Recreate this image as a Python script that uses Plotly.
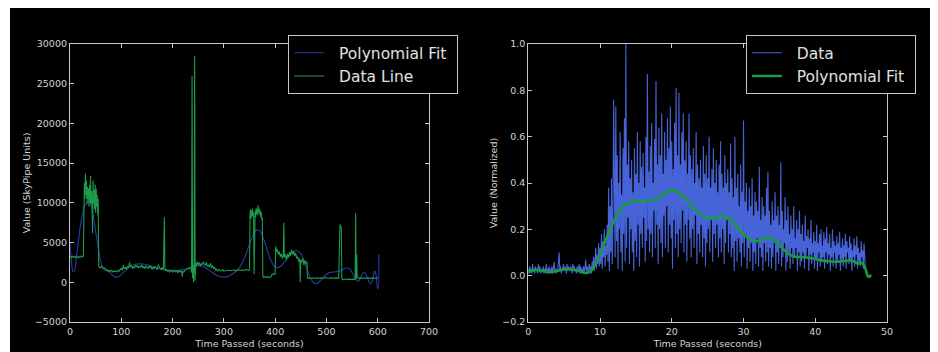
import numpy as np
import plotly.graph_objects as go

# ---------------- Left panel data (SkyPipe units) ----------------
left_time = [0, 2, 4, 6, 8, 10, 12, 14, 16, 18, 20, 22, 24, 26,
             27, 28, 29, 30, 31, 32, 33, 34, 35, 36, 37, 38, 39, 40, 41, 42, 43, 44, 45, 46, 47, 48, 49, 50,
             51, 52, 53, 54, 55, 56, 58, 60, 62, 64, 66, 68, 70, 72, 74, 76, 78, 80, 82, 84, 86, 88, 90,
             92, 94, 96, 98, 100, 102, 104, 106, 108, 110, 112, 114, 116, 118, 120, 122, 124, 126, 128,
             130, 132, 134, 136, 138, 140, 142, 144, 146, 148, 150, 152, 154, 156, 158, 160, 162, 164,
             166, 168, 170, 172, 174, 176, 178, 180, 182, 184, 185, 186, 188, 190, 192, 194, 196, 198,
             200, 202, 204, 206, 208, 210, 212, 214, 216, 218, 219, 220, 222, 224, 226, 228, 230, 232,
             234, 236, 237, 238, 239, 240, 241, 242, 243, 244, 245, 246, 248, 250, 252, 254, 256, 258,
             260, 262, 264, 266, 268, 270, 272, 274, 276, 278, 280, 282, 284, 286, 288, 290, 292, 294,
             296, 298, 300, 304, 308, 312, 316, 320, 324, 328, 332, 336, 340, 344, 348, 350,
             351, 352, 353, 354, 355, 356, 357, 358, 359, 360, 361, 362, 363, 364, 365, 366, 367, 368,
             369, 370, 371, 372, 373, 374, 375, 376, 378, 380, 382, 384, 386, 388, 390, 392, 394, 396,
             398, 400, 401, 402, 404, 406, 408, 410, 412, 414, 416, 417, 418, 420, 422, 424, 426, 428,
             430, 432, 434, 436, 438, 440, 442, 444, 446, 448, 449, 450, 452, 454, 456, 458, 460, 462,
             463, 466, 470, 474, 478, 482, 486, 490, 494, 498, 502, 506, 510, 514, 518, 522, 524, 526,
             527, 528, 529, 530, 532, 536, 540, 544, 548, 552, 556, 557, 558, 559, 560, 562, 566, 570,
             574, 578, 582, 586, 590, 594, 598, 600]
left_values = [3200, 3100, 3300, 3150, 3250, 3100, 3300, 3200, 3100, 3250, 3150, 3300, 3200, 3250,
               9000, 12500, 10500, 13700, 11000, 12800, 9800, 12000, 10500, 11800, 9500, 12200, 10000, 13400,
               9800, 11500, 10200, 6200, 12800, 10000, 11600, 9200, 12300, 8800,
               11800, 9500, 11000, 8500, 10500, 2000, 1900, 1800, 2000, 1900, 1750, 1800, 1500, 1600, 1400,
               1500, 1350, 1500, 1400, 1300, 1450, 1350, 1400,
               1300, 1500, 1400, 1600, 1800, 1500, 2200, 1700, 1900, 1600, 2000, 1800, 2500, 1900, 2100,
               1700, 2000, 1800, 2200,
               1900, 2100, 1800, 2000, 1900, 2200, 1800, 2000, 1700, 2100, 1900, 1700, 2100, 1800, 2000,
               1600, 1900, 1700,
               2000, 1800, 1600, 2200, 1900, 1700, 1600, 1900, 1600, 8200, 1700, 1500, 1600, 1400, 1500,
               1300, 1500, 1400,
               1300, 1500, 1400, 1300, 1500, 1200, 1400, 1300, 1500, 1200, 700, 1400, 1300, 1500, 1600,
               1700, 1800, 1700,
               1900, 1800, 1200, 26000, 500, 2200, 0, 1800, 28500, 200, 2400, 2000, 2600, 2200, 2500, 2000,
               2400, 2200,
               2600, 2300, 2100, 2500, 2000, 2200, 1900, 2400, 1800, 2100, 1700, 1900, 1500, 1700, 1400,
               1600, 1500, 1400,
               1500, 1600, 1400, 1500, 1550, 1450, 1500, 1550, 1450, 1600, 1500, 1550, 1500, 1600, 1500, 1550,
               8500, 9200, 8000, 9000, 8400, 9300, 8200, 8800, 1000, 8500, 9000, 8200, 9400, 8600, 9200,
               8400, 9700, 8800,
               9300, 8500, 9000, 8200, 8800, 7800, 8200, 700, 600, 700, 650, 600, 700, 650, 600, 700, 1000,
               1000,
               1100, 1000, 4500, 3800, 4200, 3500, 3900, 3200, 3600, 3000, 3400, 7500, 3100, 3500, 2800,
               3600, 3100, 3800,
               3300, 4100, 3500, 3900, 3300, 3700, 3000, 3200, 2600, 3000, 0, 2800, 2500, 3000, 2200, 2800,
               2300, 2600,
               500, 550, 500, 550, 500, 550, 500, 550, 500, 600, 550, 500, 550, 500, 550, 500, 500, 6500,
               7300, 7000, 6800, 500, 300, 400, 350, 400, 350, 400, 350, 8700, 400, 3500, 700, 500, 550, 500,
               550, 500, 550, 500, 550, 500, 550, 500]

fit_left_time = [0, 3, 6, 9, 12, 16, 20, 25, 30, 35, 40, 45, 50, 55, 60, 65, 70, 75, 80, 85, 90, 95,
                 100, 110, 120, 130, 140, 150, 160, 170, 180, 190, 200, 210, 220, 230, 240, 250, 260,
                 270, 280, 290, 300, 310, 320, 330, 340, 350, 360, 365, 370, 380, 390, 400, 410, 420,
                 430, 440, 450, 460, 470, 478, 485, 495, 505, 515, 525, 535, 540, 545, 552, 558, 562,
                 567, 573, 577, 582, 586, 590, 594, 597, 599, 601, 602]
fit_left_values = [5000, 2500, 1300, 1500, 2800, 5000, 7000, 8800, 9800, 10100, 9800, 8500, 6500, 4300,
                   2600, 1700, 1500, 1400, 1100, 800, 650, 700, 1000, 1600, 2100, 2300, 2300, 2200, 2000,
                   1800, 1600, 1500, 1500, 1500, 1600, 1700, 1900, 2100, 2000, 1600, 1100, 750, 650, 800,
                   1200, 1800, 3000, 4800, 6300, 6600, 6500, 5000, 3000, 1900, 2000, 2700, 3600, 4000,
                   3600, 2000, 400, -200, 0, 700, 1200, 1300, 1400, 1700, 1800, 1700, 1000, 300, 100, 600,
                   1300, 1000, 200, -200, 300, 1400, 900, -500, -800, 3500]

# ---------------- Right panel data (normalized) ----------------
right_step = 0.1  # seconds between samples
right_values = [
    0.03, 0.01, 0.04, 0.02, 0.03, 0.01, 0.05, 0.02, 0.03, 0.01,
    0.04, 0.02, 0.03, 0.01, 0.05, 0.02, 0.04, 0.01, 0.03, 0.02,
    0.02, 0.04, 0.01, 0.03, 0.02, 0.05, 0.01, 0.03, 0.02, 0.04,
    0.01, 0.03, 0.02, 0.04, 0.01, 0.03, 0.06, 0.02, 0.03, 0.01,
    0.03, 0.02, 0.05, 0.10, 0.02, 0.04, 0.01, 0.03, 0.02, 0.05,
    0.02, 0.04, 0.03, 0.01, 0.05, 0.02, 0.04, 0.03, 0.02, 0.04,
    0.03, 0.01, 0.05, 0.02, 0.04, 0.02, 0.03, 0.01, 0.04, 0.02,
    0.03, 0.05, 0.01, 0.04, 0.02, 0.03, 0.01, 0.04, 0.02, 0.03,
    0.07, 0.02, 0.04, 0.01, 0.03, 0.05, 0.02, 0.04, 0.01, 0.06,
    0.03, 0.08, 0.02, 0.06, 0.12, 0.03, 0.09, 0.05, 0.14, 0.04,
    0.12, 0.05, 0.18, 0.03, 0.15, 0.08, 0.20, 0.04, 0.13, 0.09,
    0.22, 0.06, 0.38, 0.02, 0.30, 0.10, 0.42, 0.05, 0.25, 0.76,
    0.45, 0.08, 0.73, 0.15, 0.52, 0.03, 0.40, 0.20, 0.62, 0.10,
    0.35, 0.02, 0.55, 0.18, 0.68, 0.06, 1.00, 0.12, 0.48, 0.25,
    0.58, 0.05, 0.42, 0.20, 0.50, 0.10, 0.36, 0.02, 0.55, 0.15,
    0.44, 0.08, 0.62, 0.22, 0.40, 0.04, 0.58, 0.18, 0.47, 0.12,
    0.53, 0.25, 0.38, 0.06, 0.60, 0.15, 0.87, 0.20, 0.45, 0.10,
    0.56, 0.18, 0.66, 0.08, 0.40, 0.28, 0.59, 0.12, 0.84, 0.22,
    0.48, 0.05, 0.64, 0.20, 0.52, 0.14, 0.70, 0.08, 0.44, 0.26,
    0.62, 0.12, 0.50, 0.30, 0.68, 0.10, 0.55, 0.22, 0.73, 0.16,
    0.58, 0.03, 0.46, 0.24, 0.66, 0.12, 0.81, 0.18, 0.52, 0.08,
    0.79, 0.20, 0.48, 0.14, 0.62, 0.28, 0.70, 0.10, 0.50, 0.22,
    0.58, 0.06, 0.44, 0.24, 0.70, 0.16, 0.52, 0.08, 0.46, 0.20,
    0.55, 0.12, 0.40, 0.26, 0.62, 0.05, 0.48, 0.18, 0.42, 0.10,
    0.50, 0.22, 0.38, 0.08, 0.56, 0.16, 0.44, 0.04, 0.52, 0.14,
    0.42, 0.20, 0.60, 0.10, 0.38, 0.24, 0.46, 0.06, 0.55, 0.18,
    0.40, 0.12, 0.50, 0.22, 0.36, 0.08, 0.48, 0.16, 0.58, 0.10,
    0.44, 0.20, 0.38, 0.05, 0.52, 0.14, 0.40, 0.24, 0.46, 0.10,
    0.36, 0.18, 0.57, 0.08, 0.42, 0.12, 0.34, 0.02, 0.60, 0.15,
    0.38, 0.06, 0.44, 0.16, 0.30, 0.10, 0.48, 0.04, 0.36, 0.14,
    0.67, 0.08, 0.32, 0.18, 0.40, 0.03, 0.28, 0.12, 0.38, 0.06,
    0.30, 0.14, 0.42, 0.02, 0.26, 0.10, 0.36, 0.05, 0.32, 0.16,
    0.28, 0.04, 0.47, 0.12, 0.24, 0.08, 0.34, 0.02, 0.30, 0.14,
    0.26, 0.06, 0.38, 0.10, 0.45, 0.04, 0.28, 0.12, 0.22, 0.03,
    0.32, 0.08, 0.24, 0.14, 0.36, 0.02, 0.26, 0.10, 0.30, 0.05,
    0.22, 0.12, 0.49, 0.04, 0.28, 0.08, 0.20, 0.14, 0.34, 0.02,
    0.24, 0.06, 0.30, 0.10, 0.18, 0.03, 0.26, 0.12, 0.20, 0.05,
    0.30, 0.08, 0.16, 0.12, 0.24, 0.02, 0.20, 0.10, 0.28, 0.04,
    0.18, 0.06, 0.22, 0.10, 0.15, 0.03, 0.26, 0.08, 0.17, 0.12,
    0.20, 0.02, 0.16, 0.09, 0.24, 0.05, 0.14, 0.10, 0.19, 0.03,
    0.15, 0.07, 0.22, 0.02, 0.14, 0.10, 0.18, 0.04, 0.20, 0.06,
    0.13, 0.08, 0.19, 0.03, 0.16, 0.10, 0.21, 0.05, 0.14, 0.09,
    0.18, 0.02, 0.12, 0.08, 0.20, 0.04, 0.15, 0.10, 0.13, 0.03,
    0.17, 0.06, 0.14, 0.09, 0.19, 0.02, 0.12, 0.07, 0.16, 0.04,
    0.13, 0.08, 0.18, 0.03, 0.15, 0.10, 0.12, 0.05, 0.17, 0.06,
    0.14, 0.02, 0.11, 0.08, 0.16, 0.04, 0.13, 0.09, 0.17, 0.03,
    0.12, 0.06, 0.10, 0.04, 0.15, 0.08, 0.11, 0.03, 0.14, 0.05,
    0.02, 0.01]
right_time = [i * right_step for i in range(len(right_values))]

fit_right_time = [0, 1, 2, 3, 4, 5, 6, 7, 8, 8.5, 9, 10, 11, 12, 13, 14, 15, 16, 17, 18, 19, 20, 21,
                  22, 23, 24, 25, 26, 27, 28, 29, 30, 31, 32, 33, 34, 35, 36, 37, 38, 39, 40, 41, 42,
                  43, 44, 45, 45.5, 46, 46.5, 47, 47.3, 47.5, 47.8]
fit_right_values = [0.015, 0.025, 0.02, 0.015, 0.02, 0.028, 0.028, 0.02, 0.012, 0.015, 0.03, 0.09,
                    0.17, 0.24, 0.29, 0.315, 0.322, 0.32, 0.323, 0.335, 0.355, 0.368, 0.36, 0.33,
                    0.295, 0.265, 0.25, 0.25, 0.257, 0.245, 0.215, 0.18, 0.155, 0.15, 0.16, 0.16,
                    0.135, 0.10, 0.083, 0.08, 0.078, 0.072, 0.065, 0.062, 0.06, 0.063, 0.065, 0.06,
                    0.052, 0.055, 0.03, 0.0, -0.005, 0.003]

left_x_ticks = [0, 100, 200, 300, 400, 500, 600, 700]
left_y_ticks = [-5000, 0, 5000, 10000, 15000, 20000, 25000, 30000]
right_x_ticks = [0, 10, 20, 30, 40, 50]
right_y_ticks = [-0.2, 0.0, 0.2, 0.4, 0.6, 0.8, 1.0]

# ---------------- Styling ----------------
# The page body adds an 8px margin; the figure is sized so that it ends at the
# reference's black area (screen x 8..935, y 8..352).
OFF = 8
W, H = 927, 344

def sx(p):  # screen x -> figure x
    return p - OFF

def sy(p):
    return p - OFF

ML, MR, MT, MB = sx(70), W - sx(887), sy(44), H - sy(322)
PW = W - ML - MR
PH = H - MT - MB

def px_x(p):  # screen px -> paper coordinate
    return (sx(p) - ML) / PW

def px_y(p):
    return (H - MB - sy(p)) / PH

FRAME = "#c8c8c8"
TICKTXT = "#d4d4d4"
FONT = "DejaVu Sans"
NB = "\u00a0"

fig = go.Figure()

fig.add_trace(go.Scatter(x=fit_left_time, y=fit_left_values, mode="lines", name=NB * 2 + "Polynomial Fit" + NB,
                         line=dict(color="#2a3aa8", width=1.1, shape="spline", smoothing=0.8),
                         xaxis="x", yaxis="y", legend="legend"))
fig.add_trace(go.Scatter(x=left_time, y=left_values, mode="lines", name=NB * 2 + "Data Line",
                         line=dict(color="#1e9a4c", width=1.1),
                         xaxis="x", yaxis="y", legend="legend"))
fig.add_trace(go.Scatter(x=right_time, y=right_values, mode="lines", name=NB * 2 + "Data",
                         line=dict(color="#4664d8", width=1.1),
                         xaxis="x2", yaxis="y2", legend="legend2"))
fig.add_trace(go.Scatter(x=fit_right_time, y=fit_right_values, mode="lines", name=NB * 2 + "Polynomial Fit" + NB,
                         line=dict(color="#1c9a40", width=2.6, shape="spline", smoothing=0.8),
                         xaxis="x2", yaxis="y2", legend="legend2"))

axis_common = dict(showgrid=False, zeroline=False, showline=True, linecolor=FRAME, linewidth=1.2,
                   mirror="ticks", ticks="inside", ticklen=4, tickcolor=FRAME, tickwidth=1,
                   automargin=False,
                   tickfont=dict(family=FONT, size=9.5, color=TICKTXT))
title_font = dict(family=FONT, size=9.5, color=TICKTXT)
legend_common = dict(xanchor="left", yanchor="top", bgcolor="black", bordercolor=FRAME,
                     borderwidth=1.2, font=dict(family=FONT, size=15.5, color="#e0e0e0"))

fig.update_layout(
    template="none",
    width=W, height=H,
    margin=dict(l=ML, r=MR, t=MT, b=MB, autoexpand=False),
    paper_bgcolor="black",
    plot_bgcolor="black",
    showlegend=True,
    xaxis=dict(domain=[0, px_x(429)], range=[0, 700], tickvals=left_x_ticks,
               title=dict(text="Time Passed (seconds)", font=title_font, standoff=4), **axis_common),
    yaxis=dict(domain=[0, 1], range=[-5000, 30000], tickvals=left_y_ticks, tickformat="d", anchor="x",
               title=dict(text="Value (SkyPipe Units)", font=title_font, standoff=2), **axis_common),
    xaxis2=dict(domain=[px_x(528.3), 1], range=[0, 50], tickvals=right_x_ticks, anchor="y2",
                title=dict(text="Time Passed (seconds)", font=title_font, standoff=4), **axis_common),
    yaxis2=dict(domain=[0, 1], range=[-0.2, 1.0], tickvals=right_y_ticks, tickformat=".1f", anchor="x2",
                title=dict(text="Value (Normalized)", font=title_font, standoff=2), **axis_common),
    legend=dict(x=px_x(288), y=px_y(35), **legend_common),
    legend2=dict(x=px_x(745.7), y=px_y(35), **legend_common),
    shapes=[dict(type="rect", xref="paper", yref="paper", layer="below",
                 x0=px_x(0), x1=px_x(10), y0=px_y(H + 20), y1=px_y(0),
                 fillcolor="white", line=dict(width=0))],
)

fig.write_html("out.html")
